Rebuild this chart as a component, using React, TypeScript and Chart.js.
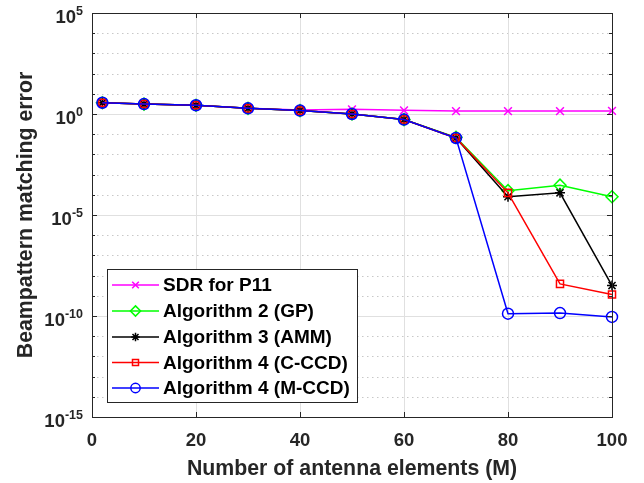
import React, { useEffect, useRef } from "react";
import { Chart, registerables } from "chart.js";

Chart.register(...registerables);

const xValues = [2, 10, 20, 30, 40, 50, 60, 70, 80, 90, 100];
const sdrP11 = [3.6, 3.1, 2.7, 1.95, 1.6, 1.7, 1.52, 1.4, 1.4, 1.4, 1.42];
const alg2GP = [3.6, 3.1, 2.7, 1.9, 1.47, 1.0, 0.53, 0.07, 1.6e-4, 3.0e-4, 8.0e-5];
const alg3AMM = [3.6, 3.1, 2.7, 1.9, 1.47, 1.0, 0.53, 0.065, 8.0e-5, 1.25e-4, 3.2e-9];
const alg4CCCD = [3.6, 3.1, 2.7, 1.9, 1.47, 1.0, 0.53, 0.065, 1.25e-4, 3.9e-9, 1.15e-9];
const alg4MCCD = [3.6, 3.1, 2.7, 1.9, 1.47, 1.0, 0.53, 0.065, 1.3e-10, 1.4e-10, 9.0e-11];

const seriesNames = [
  "SDR for P11",
  "Algorithm 2 (GP)",
  "Algorithm 3 (AMM)",
  "Algorithm 4 (C-CCD)",
  "Algorithm 4 (M-CCD)",
];
const seriesColors = ["#ff00ff", "#00ff00", "#000000", "#ff0000", "#0000ff"];
const seriesMarkers = ["crossRot", "rectRot", "star", "rect", "circle"];
const seriesRadius = [5.5, 6, 5, 5, 5.5];

const xTicks = [0, 20, 40, 60, 80, 100];
const yLabelExponents = [5, 0, -5, -10, -15];
const yDecades = [5, 4, 3, 2, 1, 0, -1, -2, -3, -4, -5, -6, -7, -8, -9, -10, -11, -12, -13, -14, -15];

const xTitle = "Number of antenna elements (M)";
const yTitle = "Beampattern matching error";

const FONT = "'Liberation Sans', Arial, Helvetica, sans-serif";
const AXIS_COLOR = "#262626";

function drawMarker(ctx: CanvasRenderingContext2D, style: string, x: number, y: number, r: number) {
  ctx.beginPath();
  if (style === "crossRot") {
    const d = r * Math.SQRT1_2;
    ctx.moveTo(x - d, y - d);
    ctx.lineTo(x + d, y + d);
    ctx.moveTo(x + d, y - d);
    ctx.lineTo(x - d, y + d);
  } else if (style === "rectRot") {
    ctx.moveTo(x, y - r);
    ctx.lineTo(x + r, y);
    ctx.lineTo(x, y + r);
    ctx.lineTo(x - r, y);
    ctx.closePath();
  } else if (style === "star") {
    ctx.moveTo(x - r, y);
    ctx.lineTo(x + r, y);
    ctx.moveTo(x, y - r);
    ctx.lineTo(x, y + r);
    const d = r * Math.SQRT1_2;
    ctx.moveTo(x - d, y - d);
    ctx.lineTo(x + d, y + d);
    ctx.moveTo(x + d, y - d);
    ctx.lineTo(x - d, y + d);
  } else if (style === "rect") {
    const d = r * Math.SQRT1_2;
    ctx.rect(x - d, y - d, 2 * d, 2 * d);
  } else {
    ctx.arc(x, y, r, 0, Math.PI * 2);
  }
  ctx.stroke();
}

const decorPlugin = {
  id: "matlabDecor",
  beforeDatasetsDraw(chart: any) {
    const { ctx, chartArea, scales } = chart;
    const xs = scales.x;
    const ys = scales.y;
    const { left, right, top, bottom } = chartArea;
    ctx.save();
    ctx.lineWidth = 1;
    ctx.strokeStyle = "#c8c8c8";
    ctx.setLineDash([1.5, 3.5]);
    yDecades.forEach((e) => {
      if (e % 5 === 0) return;
      const y = Math.round(ys.getPixelForValue(Math.pow(10, e))) + 0.5;
      ctx.beginPath();
      ctx.moveTo(left, y);
      ctx.lineTo(right, y);
      ctx.stroke();
    });
    ctx.setLineDash([]);
    ctx.strokeStyle = "#e0e0e0";
    yLabelExponents.forEach((e) => {
      const y = Math.round(ys.getPixelForValue(Math.pow(10, e))) + 0.5;
      ctx.beginPath();
      ctx.moveTo(left, y);
      ctx.lineTo(right, y);
      ctx.stroke();
    });
    xTicks.forEach((t) => {
      const x = Math.round(xs.getPixelForValue(t)) + 0.5;
      ctx.beginPath();
      ctx.moveTo(x, top);
      ctx.lineTo(x, bottom);
      ctx.stroke();
    });
    ctx.restore();
  },
  afterDraw(chart: any) {
    const { ctx, chartArea, scales } = chart;
    const xs = scales.x;
    const ys = scales.y;
    const { left, right, top, bottom } = chartArea;
    ctx.save();
    ctx.strokeStyle = AXIS_COLOR;
    ctx.lineWidth = 1;
    ctx.setLineDash([]);
    ctx.strokeRect(Math.round(left) + 0.5, Math.round(top) + 0.5, Math.round(right - left), Math.round(bottom - top));
    ctx.beginPath();
    xTicks.forEach((t) => {
      const x = Math.round(xs.getPixelForValue(t)) + 0.5;
      ctx.moveTo(x, bottom);
      ctx.lineTo(x, bottom - 5);
      ctx.moveTo(x, top);
      ctx.lineTo(x, top + 5);
    });
    yDecades.forEach((e) => {
      const y = Math.round(ys.getPixelForValue(Math.pow(10, e))) + 0.5;
      const len = e % 5 === 0 ? 5 : 3;
      ctx.moveTo(left, y);
      ctx.lineTo(left + len, y);
      ctx.moveTo(right, y);
      ctx.lineTo(right - len, y);
    });
    ctx.stroke();

    ctx.fillStyle = AXIS_COLOR;
    ctx.font = `bold 18.5px ${FONT}`;
    ctx.textAlign = "center";
    ctx.textBaseline = "alphabetic";
    xTicks.forEach((t) => {
      ctx.fillText(String(t), xs.getPixelForValue(t), bottom + 29);
    });

    yLabelExponents.forEach((e) => {
      const y = ys.getPixelForValue(Math.pow(10, e));
      ctx.font = `bold 12.5px ${FONT}`;
      const expStr = String(e);
      const ew = ctx.measureText(expStr).width;
      ctx.font = `bold 18.5px ${FONT}`;
      const bw = ctx.measureText("10").width;
      const rightEdge = left - 9;
      ctx.textAlign = "left";
      ctx.fillText("10", rightEdge - ew - bw, y + 10);
      ctx.font = `bold 12.5px ${FONT}`;
      ctx.fillText(expStr, rightEdge - ew, y + 1.5);
    });

    ctx.font = `bold 21.3px ${FONT}`;
    ctx.textAlign = "center";
    ctx.fillText(xTitle, (left + right) / 2, 475);
    ctx.save();
    ctx.translate(32, (top + bottom) / 2);
    ctx.rotate(-Math.PI / 2);
    ctx.fillText(yTitle, 0, 0);
    ctx.restore();

    const lx = 107.5, ly = 269.5, lw = 250, lh = 133;
    ctx.fillStyle = "#ffffff";
    ctx.fillRect(lx, ly, lw, lh);
    ctx.strokeStyle = AXIS_COLOR;
    ctx.lineWidth = 1;
    ctx.strokeRect(lx, ly, lw, lh);
    const rowYs = [285, 311, 337, 362.5, 388];
    seriesNames.forEach((name, i) => {
      const ry = rowYs[i];
      ctx.strokeStyle = seriesColors[i];
      ctx.lineWidth = 1.5;
      ctx.beginPath();
      ctx.moveTo(112, ry);
      ctx.lineTo(159, ry);
      ctx.stroke();
      drawMarker(ctx, seriesMarkers[i], 135.5, ry, seriesRadius[i] * 0.85);
      ctx.fillStyle = "#000000";
      ctx.font = `bold 19px ${FONT}`;
      ctx.textAlign = "left";
      ctx.textBaseline = "middle";
      ctx.fillText(name, 163, ry + 1);
    });
    ctx.restore();
  },
};

export default function App() {
  const canvasRef = useRef<HTMLCanvasElement | null>(null);

  useEffect(() => {
    const canvas = canvasRef.current;
    if (!canvas) return;
    const allSeries = [sdrP11, alg2GP, alg3AMM, alg4CCCD, alg4MCCD];
    const datasets = allSeries.map((vals, i) => ({
      label: seriesNames[i],
      data: xValues.map((x, j) => ({ x, y: vals[j] })),
      borderColor: seriesColors[i],
      backgroundColor: "rgba(0,0,0,0)",
      pointBorderColor: seriesColors[i],
      pointBackgroundColor: "rgba(0,0,0,0)",
      pointStyle: seriesMarkers[i],
      pointRadius: seriesRadius[i],
      pointBorderWidth: 1.5,
      borderWidth: 1.5,
      tension: 0,
      fill: false,
      clip: false,
      order: allSeries.length - i,
    }));
    const chart = new Chart(canvas, {
      type: "line",
      data: { datasets },
      options: {
        animation: false,
        responsive: false,
        devicePixelRatio: 1,
        layout: { padding: { left: 92, top: 13, right: 32, bottom: 66 } },
        plugins: { legend: { display: false }, tooltip: { enabled: false } },
        scales: {
          x: { type: "linear", min: 0, max: 100, display: false },
          y: { type: "logarithmic", min: 1e-15, max: 1e5, display: false },
        },
      },
      plugins: [decorPlugin],
    });
    return () => chart.destroy();
  }, []);

  return (
    <div style={{ position: "fixed", left: 0, top: 0, width: 644, height: 483, background: "#ffffff" }}>
      <canvas ref={canvasRef} width={644} height={483} style={{ display: "block" }} />
    </div>
  );
}
